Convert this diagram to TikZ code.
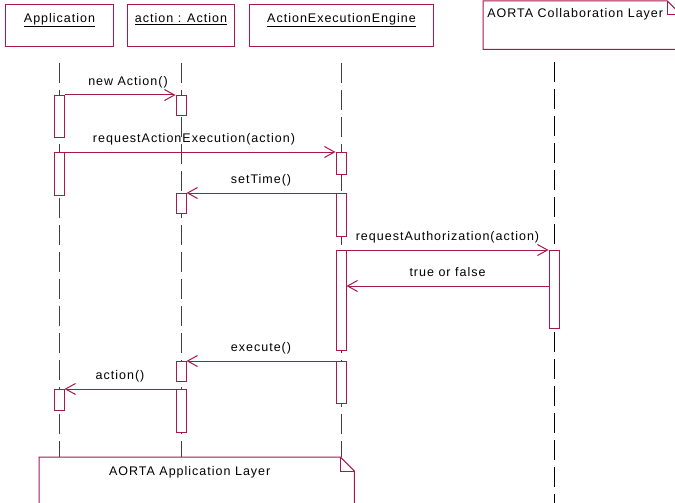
\documentclass[tikz,border=0pt]{standalone}
\usepackage{fontspec}
\setmainfont{Liberation Sans}[LetterSpace=8]
\usetikzlibrary{arrows.meta}
\definecolor{umlred}{RGB}{168,24,72}

\begin{document}
\begin{tikzpicture}[x=1pt,y=-1pt,font=\fontsize{12.5}{14}\selectfont,
    obj/.style={rectangle,draw=umlred,line width=1pt,inner sep=0pt,text height=18pt,text depth=24pt,anchor=north west},
    act/.style={rectangle,draw=umlred,fill=white,line width=1pt,minimum width=10pt,inner sep=0pt,anchor=north},
    msg/.style={draw=umlred,line width=1pt,-{Straight Barb[length=10pt,width=11pt]}},
    lbl/.style={anchor=base,yshift=10pt},
    life/.style={draw=black!75,line width=1pt,dash pattern=on 20pt off 7pt},
    notebox/.style={rectangle,inner sep=0pt,anchor=north west}]
    \useasboundingbox (0,0) rectangle (675,503);

    % objects
    \node[obj,minimum width=108pt] (app) at (5,4) {\underline{Application}};
    \node[obj,minimum width=107pt] (action) at (127,4) {\underline{action : Action}};
    \node[obj,minimum width=184pt] (engine) at (249,4) {\underline{ActionExecutionEngine}};
    \node[notebox,minimum width=198pt,minimum height=48pt] (collab) at (483,1) {};
    \draw[umlred,line width=1pt] (collab.north west) -- ([xshift=-14pt]collab.north east) -- ([yshift=-14pt]collab.north east) -- (collab.south east) -- (collab.south west) -- cycle;
    \draw[umlred,line width=1pt] ([xshift=-14pt]collab.north east) |- ([yshift=-14pt]collab.north east);
    \node[anchor=base] (collabT) at ([xshift=-7pt,yshift=-17pt]collab.north) {AORTA Collaboration Layer};

    \node[notebox,minimum width=315pt,minimum height=60pt] (applayer) at (39,457) {};
    \draw[umlred,line width=1pt] (applayer.north west) -- ([xshift=-14pt]applayer.north east) -- ([yshift=-14pt]applayer.north east) -- (applayer.south east) -- (applayer.south west) -- cycle;
    \draw[umlred,line width=1pt] ([xshift=-14pt]applayer.north east) |- ([yshift=-14pt]applayer.north east);
    \node[anchor=base] (applayerT) at ([xshift=-7pt,yshift=-18pt]applayer.north) {AORTA Application Layer};

    % lifelines
    \coordinate (aortaTop) at (554,62);
    \coordinate (aortaBot) at (554,510);
    \draw[life] ([yshift=-16pt]app.south) -- (app.south |- applayer.north);
    \draw[life] ([yshift=-16pt]action.south) -- (action.south |- applayer.north);
    \draw[life] ([yshift=-16pt]engine.south) -- (engine.south |- applayer.north);
    \draw[life,draw=black] (aortaTop) -- (aortaBot);

    % activations
    \node[act,minimum height=42pt] (appA1) at (59,95) {};
    \node[act,minimum height=43pt] (appA2) at (59,152) {};
    \node[act,minimum height=21pt] (appA3) at (59,389) {};
    \node[act,minimum height=20pt] (actB1) at (181,95) {};
    \node[act,minimum height=20pt] (actB2) at (181,193) {};
    \node[act,minimum height=20pt] (actB3) at (181,361) {};
    \node[act,minimum height=43pt] (actB4) at (181,389) {};
    \node[act,minimum height=22pt] (engE1) at (341,152) {};
    \node[act,minimum height=43pt] (engE2) at (341,193) {};
    \node[act,minimum height=100pt] (engE3) at (341,250) {};
    \node[act,minimum height=42pt] (engE4) at (341,361) {};
    \node[act,minimum height=78pt] (aorC1) at (554,250) {};

    % messages
    \draw[msg] (appA1.north east) -- node[lbl,xshift=8pt] (m1) {new Action()} (actB1.north west);
    \draw[msg] (appA2.north east) -- node[lbl,xshift=-6pt] (m2) {requestActionExecution(action)} (engE1.north west);
    \draw[msg] (engE2.north west) -- node[lbl] (m3) {setTime()} (actB2.north east);
    \draw[msg] (engE3.north east) -- node[lbl] (m4) {requestAuthorization(action)} (aorC1.north west);
    \draw[msg] ([yshift=-36pt]aorC1.north west) -- node[lbl] (m5) {true or false} ([yshift=-36pt]engE3.north east);
    \draw[msg] (engE4.north west) -- node[lbl] (m6) {execute()} (actB3.north east);
    \draw[msg] (actB4.north west) -- node[lbl] (m7) {action()} (appA3.north east);
\end{tikzpicture}
\end{document}
